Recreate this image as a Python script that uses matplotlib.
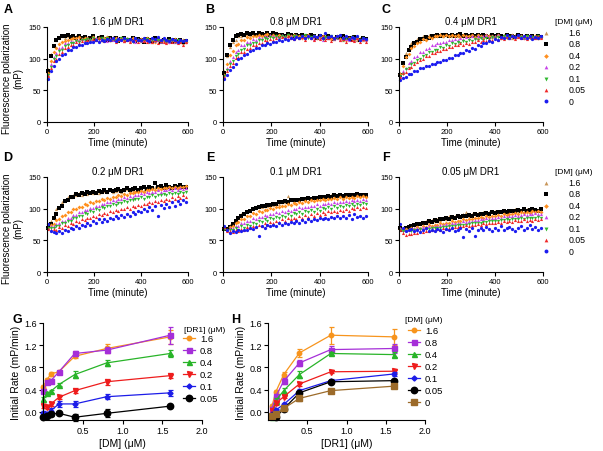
import matplotlib
matplotlib.use('Agg')
import matplotlib.pyplot as plt
from matplotlib.lines import Line2D

plt.rcParams['font.family'] = ['Liberation Sans', 'DejaVu Sans']

# ---- data ----
time_min = [4, 16, 28, 40, 52, 64, 76, 88, 100, 112,
            124, 136, 148, 160, 172, 184, 196, 208, 220, 232,
            244, 256, 268, 280, 292, 304, 316, 328, 340, 352,
            364, 376, 388, 400, 412, 424, 436, 448, 460, 472,
            484, 496, 508, 520, 532, 544, 556, 568, 580, 592]
dm_labels = ['1.6', '0.8', '0.4', '0.2', '0.1', '0.05', '0']

# order: 1.6, 0.8, 0.4, 0.2, 0.1, 0.05, 0 uM DM
panel_a = [
    [84,108,122,130,134,135,133,136,134,132,135,131,134,133,130,134,132,131,135,130,133,132,129,134,131,130,133,128,132,131,129,133,130,128,132,129,131,127,130,133,128,130,126,131,129,127,130,128,125,129],
    [80,104,120,129,133,136,135,137,134,136,133,135,132,134,131,133,135,130,132,134,131,129,133,130,132,128,131,133,129,130,132,128,131,129,127,131,130,128,132,129,127,130,128,131,126,129,128,130,127,128],
    [78,97,110,117,123,126,128,130,131,133,132,134,131,133,132,130,134,131,133,129,132,134,130,131,133,129,132,130,131,128,133,130,129,131,128,132,129,130,127,131,129,128,130,126,129,131,127,128,130,127],
    [75,91,103,109,117,119,124,125,128,127,130,129,131,130,132,131,129,133,130,132,131,128,132,130,129,133,130,128,131,129,130,127,131,128,130,129,127,131,128,129,126,130,128,127,129,126,128,127,129,126],
    [74,87,99,104,112,114,120,121,125,125,128,127,130,129,131,130,132,129,131,133,130,132,129,131,130,128,132,130,131,129,127,131,130,128,129,131,127,130,128,129,127,130,126,129,128,127,130,126,128,127],
    [73,85,96,100,108,111,117,118,122,122,126,125,128,127,130,128,131,129,132,130,128,131,129,132,127,130,131,128,130,126,129,131,127,130,128,126,129,127,130,125,128,127,124,129,126,128,125,127,122,126],
    [68,80,89,97,100,106,108,114,114,119,118,122,121,125,124,127,126,129,127,130,128,131,129,132,128,131,130,133,129,131,128,132,130,129,133,130,128,132,131,134,129,133,130,128,131,129,127,130,128,129],
]
panel_b = [
    [80,104,118,127,130,135,136,138,139,137,140,138,137,139,136,138,137,135,138,136,137,134,136,138,135,137,134,136,133,135,137,134,132,136,133,135,132,134,131,135,133,130,134,132,131,133,130,132,129,131],
    [78,106,122,130,135,137,139,138,140,139,141,138,140,139,137,140,138,141,139,137,138,136,139,137,135,138,136,137,134,136,138,135,133,136,134,132,135,133,131,134,132,135,131,133,130,134,132,130,133,131],
    [75,91,105,112,121,123,129,129,134,133,136,135,138,136,137,139,136,138,135,137,136,134,137,135,138,134,136,133,135,137,133,135,132,134,136,132,134,131,133,135,131,133,130,132,134,130,132,129,131,130],
    [73,85,97,102,111,114,121,122,127,127,131,130,134,133,135,134,137,135,136,134,137,135,133,136,134,137,133,135,132,136,134,131,135,133,130,134,132,135,131,133,130,134,131,129,133,130,132,129,131,130],
    [72,82,91,97,104,107,114,115,121,121,125,125,129,129,132,131,134,132,135,133,136,134,137,133,135,136,133,135,137,132,134,136,133,135,131,134,132,136,131,133,135,130,133,131,134,129,132,130,133,129],
    [71,80,89,93,101,103,110,111,116,117,121,122,125,125,129,128,131,130,133,131,134,132,135,133,131,136,132,134,130,135,133,129,134,131,136,130,133,128,132,135,129,131,127,133,130,128,132,127,131,126],
    [68,74,82,87,92,99,101,106,107,112,113,117,117,121,121,124,123,127,126,129,128,131,130,133,131,134,132,135,133,136,132,135,134,137,133,140,134,136,132,135,138,133,136,131,134,132,135,130,133,131],
]
panel_c = [
    [77,95,109,116,124,126,131,131,135,134,137,136,138,137,139,136,138,137,135,138,136,139,137,135,138,136,137,134,138,136,135,137,134,136,138,135,137,134,136,133,137,135,134,136,133,135,134,136,132,134],
    [75,93,103,113,118,125,126,131,131,134,133,136,135,137,136,138,137,135,138,136,137,139,136,138,135,137,136,138,135,137,136,134,137,135,138,136,134,137,135,136,134,137,135,133,136,134,135,133,136,134],
    [76,89,102,108,117,120,125,126,131,130,134,133,136,135,137,136,138,135,137,136,138,134,137,136,135,138,134,137,136,133,137,135,136,134,137,133,136,135,134,137,133,135,136,132,135,134,133,136,132,134],
    [72,81,85,93,96,102,104,110,111,116,117,121,121,125,124,127,127,130,129,131,130,133,131,134,132,135,133,136,134,135,137,134,136,135,137,134,136,135,133,137,135,134,136,133,135,134,136,133,135,134],
    [72,76,83,85,91,93,98,100,104,105,110,110,114,114,118,117,121,120,124,123,126,125,128,127,129,128,131,129,132,130,133,131,134,132,134,133,135,133,134,136,133,135,134,132,135,133,134,132,135,133],
    [71,77,79,85,87,92,94,98,99,104,104,109,109,112,112,116,115,119,118,121,121,124,122,125,123,127,126,129,127,130,128,131,129,132,130,133,131,134,132,135,131,134,132,135,131,134,133,132,135,133],
    [67,70,71,76,76,81,81,85,85,89,88,92,92,95,95,98,98,101,101,105,105,109,109,113,112,117,116,121,120,125,124,128,127,131,130,134,132,137,133,136,134,138,132,136,133,135,131,134,132,135],
]
panel_d = [
    [72,81,89,99,103,111,113,118,118,122,121,124,122,125,123,126,124,127,125,126,128,126,129,127,128,130,127,129,131,128,130,132,129,131,130,133,131,132,134,131,133,135,132,134,133,135,132,134,136,133],
    [70,76,86,92,101,105,112,114,119,119,123,122,125,123,126,124,127,125,128,126,129,127,130,128,129,131,128,130,132,129,131,133,130,132,134,131,135,133,140,134,136,133,137,135,133,136,134,137,135,134],
    [70,74,76,82,84,89,90,94,95,99,99,103,103,107,106,110,109,112,112,115,114,117,116,119,118,121,120,123,122,125,124,127,126,128,127,130,129,131,130,132,131,133,132,134,132,135,133,135,134,136],
    [70,72,72,76,77,81,81,86,86,90,90,94,94,98,98,101,101,105,104,108,107,111,110,113,112,116,115,118,117,120,119,122,121,124,123,126,125,127,126,129,127,130,129,131,129,132,130,133,131,132],
    [69,70,69,73,73,77,77,81,81,85,85,89,89,93,92,96,95,99,98,102,101,105,104,107,106,109,109,112,111,114,113,116,115,118,116,119,118,121,119,122,121,123,121,124,123,125,123,126,124,127],
    [68,66,68,67,71,70,74,73,77,76,80,79,83,82,85,85,88,87,91,90,93,92,96,95,98,97,100,99,102,100,104,103,106,105,108,107,110,109,112,111,114,112,116,113,118,116,120,117,121,119],
    [76,65,63,61,64,62,67,65,70,68,72,70,75,72,77,75,80,77,83,79,84,81,86,83,88,85,90,87,92,89,94,91,97,94,100,96,102,98,104,88,106,101,108,103,110,105,112,107,113,110],
]
panel_e = [
    [71,69,74,78,84,86,91,92,97,97,101,101,104,103,105,104,107,106,109,108,111,110,120,113,112,115,114,116,115,117,116,118,117,119,118,120,118,121,119,120,122,119,121,123,120,122,121,123,121,122],
    [68,68,71,76,81,85,88,92,94,97,99,101,102,104,104,106,106,108,108,110,110,112,111,113,113,114,114,116,115,117,116,117,117,118,119,118,120,119,121,120,121,120,122,121,122,121,123,122,121,122],
    [69,67,71,72,77,79,84,84,89,89,93,92,96,95,98,98,101,100,103,102,105,104,107,106,109,107,110,109,112,110,113,112,114,113,115,114,116,115,117,115,118,116,118,117,119,117,120,118,120,119],
    [70,67,70,69,73,73,77,77,81,81,85,84,87,87,90,89,92,91,94,93,96,95,98,97,100,99,102,101,103,102,105,104,107,105,108,107,109,108,110,109,111,110,112,111,113,112,114,112,115,113],
    [68,65,67,66,69,67,72,70,75,73,77,76,81,79,83,81,85,83,87,85,89,87,91,89,93,91,94,92,96,94,98,95,99,97,101,99,102,100,104,101,105,103,106,104,107,105,108,106,109,107],
    [71,64,65,63,66,64,68,66,71,69,73,71,75,73,77,75,79,77,81,79,83,81,85,83,86,84,88,86,90,87,91,89,93,90,94,92,96,94,97,95,98,96,100,97,101,99,102,100,103,101],
    [73,67,62,65,63,66,64,67,66,69,68,71,57,72,70,74,72,75,73,77,74,78,76,79,77,81,78,82,79,83,80,84,82,85,83,86,84,87,85,88,86,89,86,90,84,91,87,89,85,88],
]
panel_f = [
    [69,68,71,72,74,76,75,78,78,80,79,82,81,84,82,86,84,88,86,89,90,88,91,95,89,92,91,93,92,94,93,95,94,96,95,97,95,98,96,97,99,96,98,97,100,96,99,97,98,96],
    [70,67,70,71,73,74,76,76,78,78,80,79,82,81,83,83,85,84,87,86,88,87,89,88,90,89,91,90,92,91,93,92,94,93,95,94,96,95,96,97,96,98,97,99,97,98,100,98,97,99],
    [68,66,68,67,69,68,71,70,72,71,74,73,75,74,77,76,78,77,80,79,81,80,83,82,84,83,86,85,87,86,88,87,89,88,90,89,91,90,92,91,93,92,94,93,95,93,96,94,96,95],
    [69,66,67,68,68,69,70,69,71,70,72,71,73,73,74,74,76,75,77,77,78,78,80,79,81,80,82,82,83,83,85,84,86,85,87,86,88,87,89,88,90,89,90,91,90,92,91,93,91,92],
    [66,64,65,66,65,67,66,68,67,68,68,69,69,70,70,71,71,72,73,73,74,74,75,75,76,77,77,78,78,79,79,80,80,81,81,82,82,83,82,84,83,84,85,84,86,85,86,85,87,86],
    [66,61,59,60,60,62,61,64,63,65,64,66,66,68,67,69,68,70,70,71,71,72,73,74,73,75,74,76,75,77,76,77,78,77,79,78,80,79,81,79,82,80,81,83,80,82,81,83,82,84],
    [76,70,64,66,68,65,67,63,66,69,64,67,65,68,66,63,68,66,70,64,67,69,55,68,65,70,57,67,69,66,71,68,65,70,67,72,66,69,71,68,65,70,72,67,69,74,68,71,66,70],
]

# panel G: initial rate vs [DM], one line per [DR1]
g_dm = [0, 0.05, 0.1, 0.2, 0.4, 0.8, 1.6]
g_labels = ['1.6', '0.8', '0.4', '0.2', '0.1', '0.05']
g_rate = [
    [0.45, 0.58, 0.68, 0.72, 1.00, 1.14, 1.35],
    [0.38, 0.53, 0.56, 0.72, 1.05, 1.11, 1.38],
    [0.23, 0.33, 0.37, 0.49, 0.67, 0.88, 1.05],
    [0.10, 0.08, 0.14, 0.26, 0.38, 0.54, 0.65],
    [-0.03, -0.05, 0.02, 0.14, 0.14, 0.27, 0.34],
    [-0.10, -0.07, -0.04, -0.03, -0.10, -0.03, 0.10],
]
g_err = [
    [0.03, 0.03, 0.04, 0.02, 0.04, 0.08, 0.12],
    [0.03, 0.03, 0.03, 0.02, 0.04, 0.05, 0.15],
    [0.03, 0.03, 0.03, 0.03, 0.06, 0.05, 0.07],
    [0.03, 0.04, 0.03, 0.03, 0.05, 0.05, 0.05],
    [0.04, 0.04, 0.04, 0.05, 0.06, 0.05, 0.05],
    [0.03, 0.03, 0.03, 0.02, 0.06, 0.07, 0.02],
]

# panel H: initial rate vs [DR1], one line per [DM]
h_dr1 = [0.05, 0.1, 0.2, 0.4, 0.8, 1.6]
h_labels = ['1.6', '0.8', '0.4', '0.2', '0.1', '0.05', '0']
h_rate = [
    [0.10, 0.36, 0.67, 1.06, 1.38, 1.35],
    [0.05, 0.28, 0.55, 0.88, 1.12, 1.14],
    [-0.10, 0.20, 0.38, 0.67, 1.05, 1.03],
    [0.02, 0.15, 0.27, 0.50, 0.72, 0.73],
    [-0.05, 0.03, 0.13, 0.38, 0.56, 0.68],
    [-0.07, -0.10, 0.05, 0.34, 0.54, 0.56],
    [-0.08, -0.05, 0.06, 0.24, 0.38, 0.46],
]
h_err = [
    [0.03, 0.04, 0.04, 0.07, 0.15, 0.15],
    [0.03, 0.04, 0.05, 0.05, 0.06, 0.08],
    [0.03, 0.04, 0.05, 0.06, 0.03, 0.05],
    [0.02, 0.03, 0.03, 0.03, 0.03, 0.03],
    [0.02, 0.02, 0.03, 0.03, 0.03, 0.04],
    [0.02, 0.02, 0.03, 0.03, 0.03, 0.03],
    [0.02, 0.02, 0.03, 0.04, 0.03, 0.03],
]

# ---- styles ----
scat_colors = ['#c8965a', '#000000', '#ff9020', '#c845e8', '#2fb82f', '#f02828', '#1c1cf0']
scat_markers = ['^', 's', 'D', '^', 'v', '^', 'o']
scat_sizes = [5.5, 5.5, 4, 5, 5.5, 5, 5.5]

rate_colors = ['#f7941d', '#a52fd8', '#28b428', '#ee1c1c', '#1c1ce8', '#000000', '#9c6b2a']
rate_markers = ['o', 's', '^', 'v', 'D', 'o', 's']
rate_msize = [3.2, 3.6, 3.6, 3.6, 2.6, 4.6, 4.6]

W, H = 603.0, 452.0
fig = plt.figure(figsize=(6.03, 4.52), dpi=100)


def px_axes(left, top, right, bottom):
    return fig.add_axes([left / W, 1 - bottom / H, (right - left) / W, (bottom - top) / H])


def style(ax, fs):
    ax.spines['top'].set_visible(False)
    ax.spines['right'].set_visible(False)
    ax.spines['left'].set_linewidth(0.8)
    ax.spines['bottom'].set_linewidth(0.8)
    ax.tick_params(direction='out', length=3, width=0.8, labelsize=fs, pad=1.5)


scatter_panels = [
    (panel_a, '1.6 μM DR1', 'A', (47, 28, 188, 123), True, False),
    (panel_b, '0.8 μM DR1', 'B', (223, 28, 368, 123), False, False),
    (panel_c, '0.4 μM DR1', 'C', (399, 28, 543, 123), False, True),
    (panel_d, '0.2 μM DR1', 'D', (47, 178, 188, 273), True, False),
    (panel_e, '0.1 μM DR1', 'E', (223, 178, 368, 273), False, False),
    (panel_f, '0.05 μM DR1', 'F', (399, 178, 543, 273), False, True),
]

for data, title, letter, rect, with_ylabel, with_legend in scatter_panels:
    ax = px_axes(*rect)
    style(ax, 5.5)
    handles = []
    for i, vals in enumerate(data):
        n = min(len(time_min), len(vals))
        h = ax.scatter(time_min[:n], vals[:n], s=scat_sizes[i], marker=scat_markers[i],
                       color=scat_colors[i], linewidths=0, label=dm_labels[i], clip_on=False)
        handles.append(h)
    ax.set_xlim(0, 600)
    ax.set_ylim(0, 150)
    ax.set_xticks([0, 200, 400, 600])
    ax.set_yticks([0, 50, 100, 150])
    ax.set_title(title, fontsize=7, pad=2.5)
    ax.set_xlabel('Time (minute)', fontsize=7, labelpad=1)
    if with_ylabel:
        ax.set_ylabel('Fluorescence polarization\n(mP)', fontsize=7, linespacing=1.1)
        ax.yaxis.set_label_coords(-0.17, 0.47)
    if with_legend:
        top = rect[1]
        fig.text(555 / W, 1 - (top - 5) / H, '[DM] (μM)', fontsize=6, va='center')
        ax.legend(handles=handles, loc='upper left',
                  bbox_to_anchor=(542 / W, 1 - (top + 1) / H), bbox_transform=fig.transFigure,
                  frameon=False, fontsize=6.3, handlelength=1.0, handletextpad=2.0,
                  labelspacing=0.28, borderpad=0, borderaxespad=0, scatterpoints=1,
                  markerscale=1.2)
    x0 = 8 if letter in 'AD' else (210 if letter in 'BE' else 386)
    y0 = 10 if letter in 'ABC' else 158
    fig.text(x0 / W, 1 - y0 / H, letter, fontsize=9, fontweight='bold', ha='center', va='center')


def rate_panel(rect, xs, rates, errs, labels, col_ids, xlabel, letter, lx, legend_title, leg_pos):
    ax = px_axes(*rect)
    style(ax, 6.5)
    handles = []
    for k, (ys, es) in enumerate(zip(rates, errs)):
        ci = col_ids[k]
        ax.errorbar(xs, ys, yerr=es, fmt='none', ecolor=rate_colors[ci], elinewidth=0.9,
                    capsize=1.8, capthick=0.9, clip_on=False)
        ax.plot(xs, ys, color=rate_colors[ci], marker=rate_markers[ci], ms=rate_msize[ci],
                lw=0.9, clip_on=False)
        handles.append(Line2D([], [], color=rate_colors[ci], marker=rate_markers[ci],
                              ms=rate_msize[ci], lw=0.9, label=labels[k]))
    ax.set_xlim(0, 2.0)
    ax.set_ylim(-0.15, 1.6)
    ax.set_xticks([0.5, 1.0, 1.5, 2.0])
    ax.set_yticks([0.0, 0.4, 0.8, 1.2, 1.6])
    ax.set_xlabel(xlabel, fontsize=7.5, labelpad=2)
    ax.set_ylabel('Initial Rate (mP/min)', fontsize=7.5, labelpad=2)
    fig.text(lx / W, 1 - 320 / H, letter, fontsize=9, fontweight='bold', ha='center', va='center')
    tx, ty, hx, hy = leg_pos
    fig.text(tx / W, 1 - ty / H, legend_title, fontsize=6, va='center')
    ax.legend(handles=handles, loc='upper left', bbox_to_anchor=(hx / W, 1 - hy / H),
              bbox_transform=fig.transFigure, frameon=False, fontsize=6.8,
              handlelength=1.3, handletextpad=0.5, labelspacing=0.32, borderpad=0,
              borderaxespad=0)


rate_panel((43, 324, 202, 421), g_dm, g_rate, g_err, g_labels, [0, 1, 2, 3, 4, 5],
           '[DM] (μM)', 'G', 17, '[DR1] (μM)', (184, 330, 183, 335))
rate_panel((268, 324, 425, 421), h_dr1, h_rate, h_err, h_labels, [0, 1, 2, 3, 4, 5, 6],
           '[DR1] (μM)', 'H', 236, '[DM] (μM)', (405, 321, 408, 327))

fig.savefig('out.png', dpi=100)
